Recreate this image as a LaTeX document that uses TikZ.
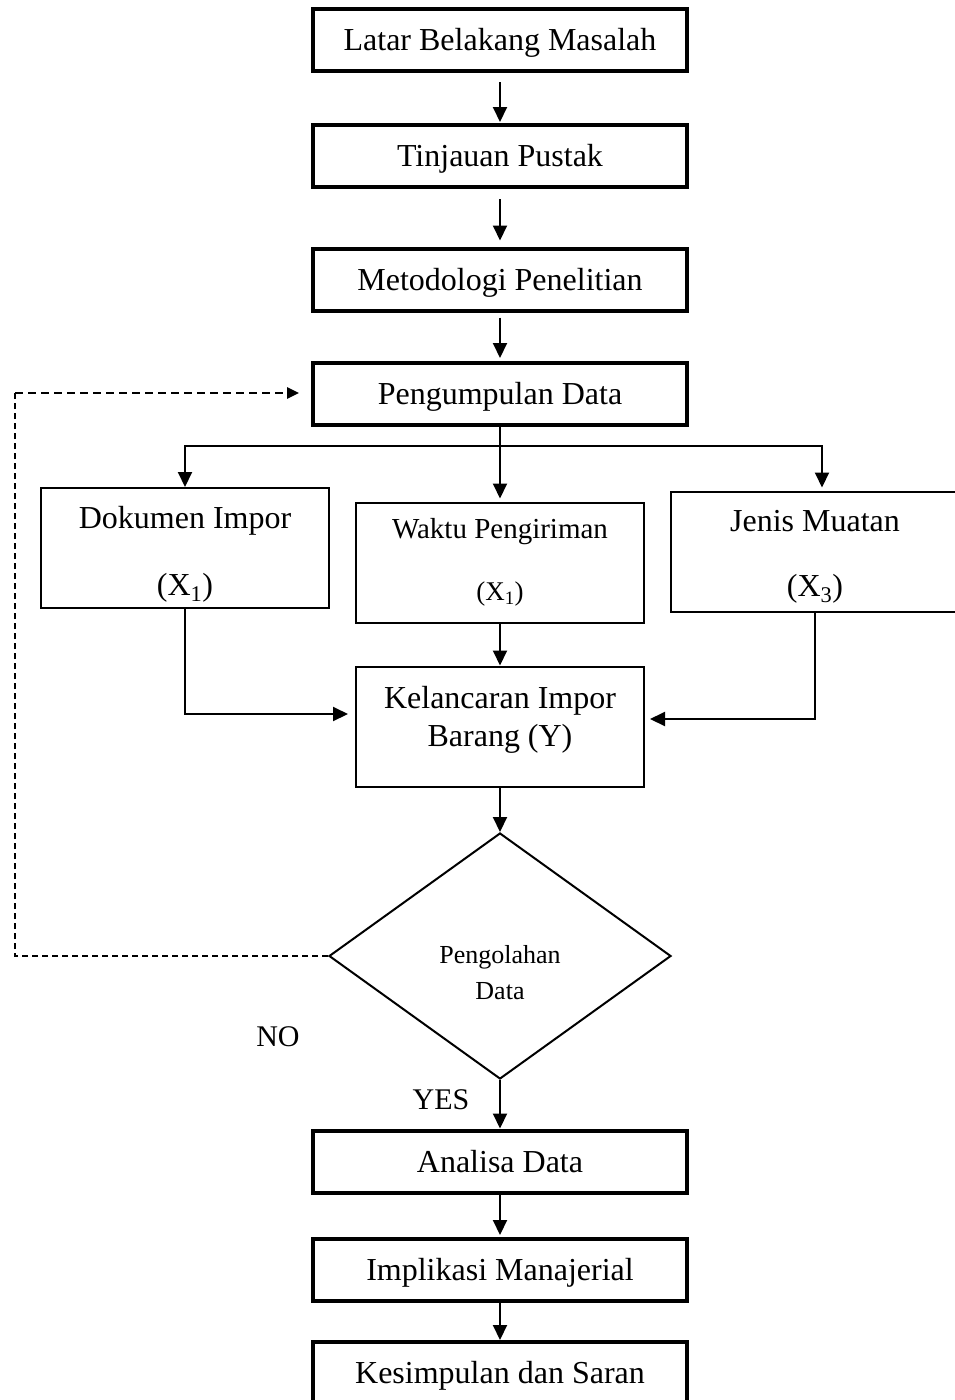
\documentclass[tikz,border=0pt]{standalone}
\usepackage{fontspec}
\setmainfont{Liberation Serif}
\usetikzlibrary{arrows.meta,shapes.geometric}
\tikzset{
	thickbox/.style={draw, line width=4pt, minimum width=374pt, minimum height=62pt, inner sep=0pt, text height=21pt, text depth=0pt, font=\fontsize{32}{38}\selectfont},
	thinbox/.style={draw, line width=2pt, minimum width=288pt, minimum height=120pt, inner sep=0pt, align=center, font=\fontsize{32}{38}\selectfont},
	txt/.style={align=center, inner sep=0pt, font=\fontsize{32}{38}\selectfont},
	arr/.style={line width=2pt, -{Triangle[length=15pt,width=14pt]}},
	dasharr/.style={line width=2.5pt, dash pattern=on 8pt off 5pt, -{Triangle[length=12pt,width=11pt]}},
}
\begin{document}
\begin{tikzpicture}[x=1pt,y=-1pt]
	\useasboundingbox (0,0) rectangle (954,1400);
	% main line
	\node[thickbox] (latar) at (500,40) {Latar Belakang Masalah};
	\node[thickbox] (tinjauan) at (500,156) {Tinjauan Pustak};
	\node[thickbox] (metodologi) at (500,279.5) {Metodologi Penelitian};
	\node[thickbox] (pengumpulan) at (500,394) {Pengumpulan Data};
	% variables
	\node[thinbox] (dokumen) at (185,548) {\rule{0pt}{34pt}Dokumen Impor\\[29pt](X\textsubscript{1})};
	\node[thinbox, font=\fontsize{29}{35}\selectfont] (waktu) at (500,562.5) {Waktu Pengiriman\\[27pt]{\fontsize{27}{32}\selectfont(X\textsubscript{1})}};
	\node[thinbox] (jenis) at (815,551.5) {\rule{0pt}{32pt}Jenis Muatan\\[27pt](X\textsubscript{3})};
	\node[thinbox] (kelancaran) at (500,726.5) {};
	\node[txt] (kelancarantxt) at ([yshift=6.5pt]kelancaran.center) {Kelancaran Impor\\Barang (Y)};
	% decision
	\node[draw, diamond, line width=2pt, minimum width=342pt, minimum height=246pt, inner sep=0pt] (pengolahan) at (500,956) {};
	\node[txt, font=\fontsize{26}{36}\selectfont] (pengolahantxt) at ([yshift=-17pt]pengolahan.center) {Pengolahan\\Data};
	\node[txt, font=\fontsize{30}{36}\selectfont] (no) at (278,1037) {NO};
	\node[txt, font=\fontsize{30}{36}\selectfont] (yes) at (441,1100) {YES};
	% end
	\node[thickbox] (analisa) at (500,1161.5) {Analisa Data};
	\node[thickbox] (implikasi) at (500,1270) {Implikasi Manajerial};
	\node[thickbox] (kesimpulan) at (500,1373) {Kesimpulan dan Saran};
	\coordinate (split) at (500,446);
	\coordinate (loopbot) at (15,956);
	\coordinate (looptop) at (15,393);
	% arrows
	\draw[arr, shorten <=9pt, shorten >=1pt] (latar.south) -- (tinjauan.north);
	\draw[arr, shorten <=10pt, shorten >=6pt] (tinjauan.south) -- (metodologi.north);
	\draw[arr, shorten <=5pt, shorten >=3pt] (metodologi.south) -- (pengumpulan.north);
	\draw[arr, shorten >=3pt] (pengumpulan.south) -- (waktu.north);
	\draw[arr] (split) -| (dokumen.north);
	\draw[arr, shorten >=3pt] (split) -| ([xshift=7pt]jenis.north);
	\draw[arr] (waktu.south) -- (kelancaran.north);
	\draw[arr, shorten >=7pt] (dokumen.south) |- ([yshift=12.5pt]kelancaran.west);
	\draw[arr, shorten >=5pt] (jenis.south) |- ([yshift=7.5pt]kelancaran.east);
	\draw[arr] (kelancaran.south) -- (pengolahan.north);
	\draw[arr] (pengolahan.south) -- (analisa.north);
	\draw[arr, shorten >=2pt] (analisa.south) -- (implikasi.north);
	\draw[arr] (implikasi.south) -- (kesimpulan.north);
	% loop back
	\draw[line width=1.3pt, dash pattern=on 6pt off 4pt] (pengolahan.west) -- (loopbot) -- (looptop);
	\draw[dasharr, shorten >=12pt] (looptop) -- ([yshift=1pt]pengumpulan.west);
\end{tikzpicture}
\end{document}
